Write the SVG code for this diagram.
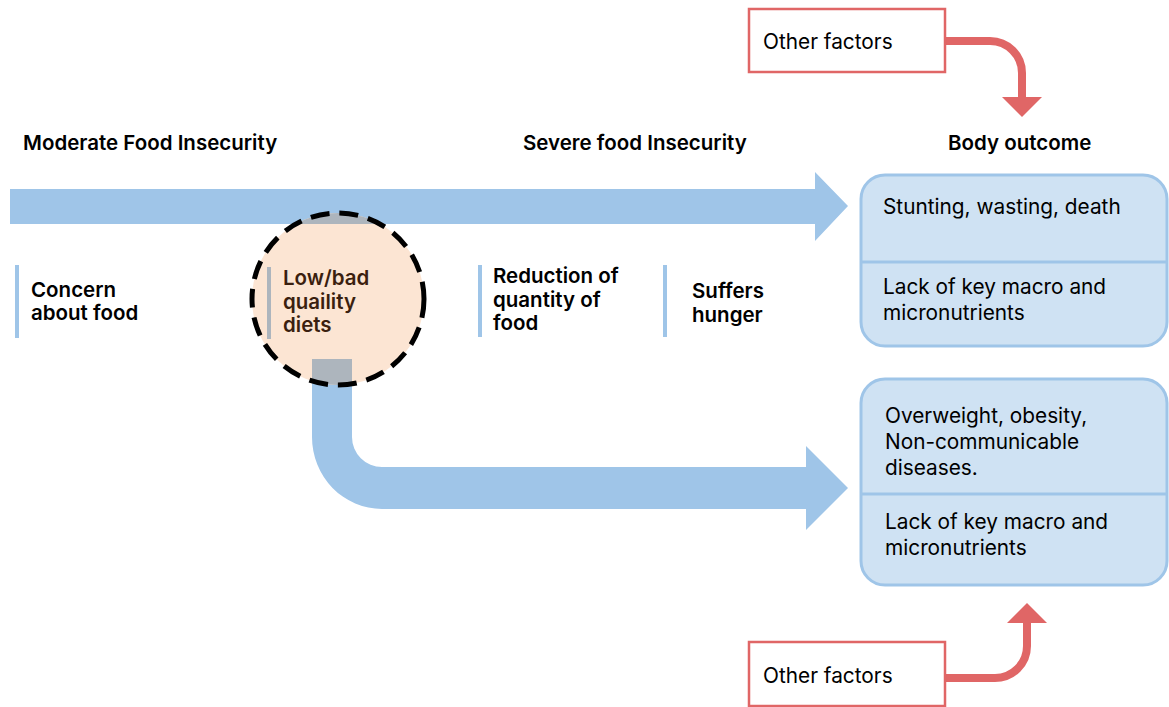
<svg xmlns="http://www.w3.org/2000/svg" width="1169" height="707" viewBox="0 0 1169 707">
  <style>
    .head { font-family: Inter, "Liberation Sans", sans-serif; font-weight: 600; font-size: 20.5px; fill: #000; }
    .lbl { font-family: Inter, "Liberation Sans", sans-serif; font-weight: 600; font-size: 20.5px; fill: #000; }
    .body { font-family: Inter, "Liberation Sans", sans-serif; font-weight: 400; font-size: 20.8px; fill: #000; }
    .flow { fill: #9fc5e8; }
    .bar { fill: #9fc5e8; }
    .box { fill: #cfe2f3; stroke: #9fc5e8; stroke-width: 3; }
    .div { stroke: #9fc5e8; stroke-width: 3; }
    .factor { fill: #fff; stroke: #e06666; stroke-width: 2.5; }
    .red { fill: none; stroke: #e06666; stroke-width: 8; }
    .redhead { fill: #e06666; }
  </style>
  <defs>
    <clipPath id="circleClip">
      <circle cx="338" cy="299" r="86"/>
    </clipPath>
    <path id="mainFlow" d="M10,189 H815 V172 L848,206 L815,241 V224 H10 Z"/>
    <path id="sideFlow" d="M312,359 V437 A70,72 0 0 0 382,509 H806 V530 L848,488 L806,446 V467 H382 A30,30 0 0 1 352,437 V359 Z"/>
  </defs>

  <!-- headings -->
  <g id="headings">
    <text class="head" x="23" y="150">Moderate Food Insecurity</text>
    <text class="head" x="523" y="150">Severe food Insecurity</text>
    <text class="head" x="948" y="150">Body outcome</text>
  </g>

  <!-- flows -->
  <g id="connectors">
    <use href="#mainFlow" class="flow"/>
    <use href="#sideFlow" class="flow"/>
    <path class="red" d="M945,41 H990 A32,32 0 0 1 1022,73 V99"/>
    <polygon class="redhead" points="1002,97 1042,97 1022,117"/>
    <path class="red" d="M945,678 H995 A32,32 0 0 0 1027,646 V621"/>
    <polygon class="redhead" points="1007,623 1047,623 1027,603"/>
  </g>

  <!-- highlighted stage -->
  <g id="low-quality-diets">
    <circle cx="338" cy="299" r="86" fill="#fce5d3"/>
    <g clip-path="url(#circleClip)" fill="#adb5bd">
      <use href="#mainFlow"/>
      <use href="#sideFlow"/>
    </g>
    <circle cx="338" cy="299" r="86" fill="none" stroke="#000" stroke-width="5" stroke-dasharray="19 10"/>
    <rect x="267" y="267" width="4" height="72" fill="#adb5bd"/>
    <text class="lbl" style="fill:#3b1f0f">
      <tspan x="283" y="285">Low/bad</tspan>
      <tspan x="283" y="309">quaility</tspan>
      <tspan x="283" y="332">diets</tspan>
    </text>
  </g>

  <g id="concern">
    <rect class="bar" x="15" y="265" width="4" height="73"/>
    <text class="lbl">
      <tspan x="31" y="297">Concern</tspan>
      <tspan x="31" y="320">about food</tspan>
    </text>
  </g>

  <g id="reduction">
    <rect class="bar" x="478" y="265" width="4" height="72"/>
    <text class="lbl">
      <tspan x="493" y="283">Reduction of</tspan>
      <tspan x="493" y="307">quantity of</tspan>
      <tspan x="493" y="330">food</tspan>
    </text>
  </g>

  <g id="hunger">
    <rect class="bar" x="663" y="265" width="4" height="72"/>
    <text class="lbl">
      <tspan x="692" y="298">Suffers</tspan>
      <tspan x="692" y="322">hunger</tspan>
    </text>
  </g>

  <!-- outcomes -->
  <g id="outcome-undernutrition">
    <rect class="box" x="861" y="175" width="306" height="171" rx="24"/>
    <line class="div" x1="861" y1="262" x2="1167" y2="262"/>
    <text class="body" x="883" y="214">Stunting, wasting, death</text>
    <text class="body">
      <tspan x="883" y="294">Lack of key macro and</tspan>
      <tspan x="883" y="320">micronutrients</tspan>
    </text>
  </g>

  <g id="outcome-overweight">
    <rect class="box" x="861" y="379" width="306" height="206" rx="24"/>
    <line class="div" x1="861" y1="494" x2="1167" y2="494"/>
    <text class="body">
      <tspan x="885" y="423">Overweight, obesity,</tspan>
      <tspan x="885" y="449">Non-communicable</tspan>
      <tspan x="885" y="475">diseases.</tspan>
    </text>
    <text class="body">
      <tspan x="885" y="529">Lack of key macro and</tspan>
      <tspan x="885" y="555">micronutrients</tspan>
    </text>
  </g>

  <!-- other factors -->
  <g id="other-factors-top">
    <rect class="factor" x="749" y="9" width="196" height="63"/>
    <text class="body" x="763" y="49">Other factors</text>
  </g>
  <g id="other-factors-bottom">
    <rect class="factor" x="749" y="642" width="196" height="64"/>
    <text class="body" x="763" y="683">Other factors</text>
  </g>
</svg>
